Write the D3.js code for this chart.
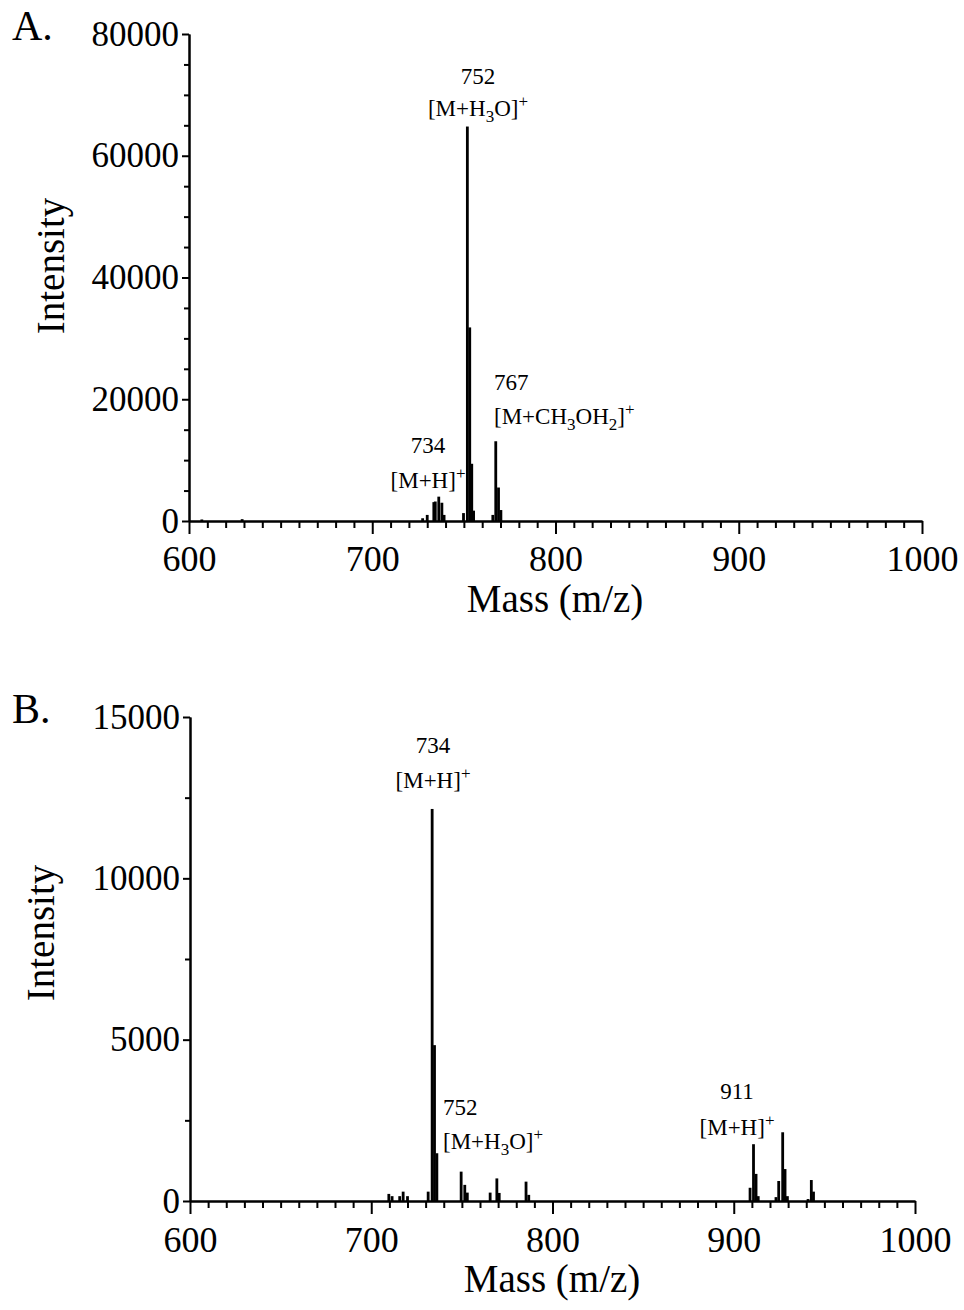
<!DOCTYPE html>
<html>
<head>
<meta charset="utf-8">
<script src="https://cdn.jsdelivr.net/npm/d3@7"></script>
<style>
  body { margin: 0; background: #fff; }
  svg { font-family: "Liberation Serif", "Times New Roman", serif; }
  .axis path, .axis line { stroke: #000; stroke-width: 2px; }
  .axis text { font-family: "Liberation Serif", serif; fill: #000; }
</style>
</head>
<body>
<script>
// panel A spectrum (m/z, intensity)
var massA = [607, 629, 727.5, 730, 733.6, 734.4, 736.3, 738, 739.2, 749.8, 751.9, 753.2, 754.3, 755.3, 765.8, 767.4, 768.9, 770.2];
var intA  = [250, 300, 450, 1000, 3100, 3200, 4000, 3000, 1000, 1300, 64800, 31800, 9400, 1700, 1000, 13100, 5500, 1800];

// panel B spectrum
var massB = [709.7, 711.5, 715.7, 717.6, 720, 731.4, 733.6, 734.9, 736.2, 749.6, 751.6, 753, 765.6, 769.3, 770.6, 785.4, 786.9, 909, 910.9, 912.3, 913.5, 923.3, 924.8, 927, 928.3, 929.6, 941, 942.8, 944];
var intB  = [220, 150, 150, 290, 150, 290, 12150, 4830, 1480, 910, 500, 260, 260, 700, 250, 600, 190, 410, 1760, 840, 150, 120, 620, 2130, 990, 150, 60, 650, 290];

var xTicks = [600, 700, 800, 900, 1000];
var yTicksA = [0, 20000, 40000, 60000, 80000];
var yTicksB = [0, 5000, 10000, 15000];

// annotations: mass label + ion formula parts (0 normal, -1 subscript, 1 superscript)
var annA = [
  {num: "752", ion: [["[M+H",0],["3",-1],["O]",0],["+",1]], x: 478, y1: 84, y2: 116, anchor: "middle"},
  {num: "767", ion: [["[M+CH",0],["3",-1],["OH",0],["2",-1],["]",0],["+",1]], x: 494, y1: 390, y2: 424, anchor: "start"},
  {num: "734", ion: [["[M+H]",0],["+",1]], x: 428, y1: 453, y2: 488, anchor: "middle"}
];
var annB = [
  {num: "734", ion: [["[M+H]",0],["+",1]], x: 433, y1: 753, y2: 788, anchor: "middle"},
  {num: "752", ion: [["[M+H",0],["3",-1],["O]",0],["+",1]], x: 443, y1: 1115, y2: 1149, anchor: "start"},
  {num: "911", ion: [["[M+H]",0],["+",1]], x: 737, y1: 1099, y2: 1135, anchor: "middle"}
];

var svg = d3.select("body").append("svg")
  .attr("width", 964).attr("height", 1310);

function panel(opt) {
  var x = d3.scaleLinear().domain([600, 1000]).range(opt.xr);
  var y = d3.scaleLinear().domain([0, opt.ymax]).range(opt.yr);
  var g = svg.append("g");

  // bars
  g.selectAll("rect.peak")
    .data(opt.mass.map(function(m, i) { return {m: m, v: opt.inten[i]}; }))
    .enter().append("rect")
      .attr("class", "peak")
      .attr("x", function(d) { return x(d.m) - 1.4; })
      .attr("width", 2.8)
      .attr("y", function(d) { return y(d.v); })
      .attr("height", function(d) { return y(0) - y(d.v); })
      .attr("fill", "#000");

  // x axis: minor then major
  var xMinor = d3.range(600, 1001, 10).filter(function(v) { return v % 100 !== 0; });
  g.append("g").attr("class", "axis")
    .attr("transform", "translate(0," + opt.yr[0] + ")")
    .call(d3.axisBottom(x).tickValues(xMinor).tickSize(7).tickSizeOuter(0).tickFormat(""));
  g.append("g").attr("class", "axis")
    .attr("transform", "translate(0," + opt.yr[0] + ")")
    .call(d3.axisBottom(x).tickValues(xTicks).tickSize(13).tickSizeOuter(0).tickFormat(d3.format("d")))
    .selectAll("text").attr("y", opt.xlabDy).attr("dy", 0).attr("font-size", 36);

  // y axis
  var yMinor = d3.range(0, opt.ymax + 1, opt.minor).filter(function(v) { return opt.yt.indexOf(v) < 0; });
  g.append("g").attr("class", "axis")
    .attr("transform", "translate(" + opt.xr[0] + ",0)")
    .call(d3.axisLeft(y).tickValues(yMinor).tickSize(5).tickSizeOuter(0).tickFormat(""));
  g.append("g").attr("class", "axis")
    .attr("transform", "translate(" + opt.xr[0] + ",0)")
    .call(d3.axisLeft(y).tickValues(opt.yt).tickSize(7).tickSizeOuter(0).tickPadding(3).tickFormat(d3.format("d")))
    .selectAll("text").attr("font-size", 35);

  // titles
  g.append("text").attr("x", 12).attr("y", opt.letterY)
    .attr("font-size", 42).text(opt.letter);
  g.append("text")
    .attr("transform", "translate(" + opt.ytX + "," + opt.ytY + ") rotate(-90)")
    .attr("text-anchor", "middle").attr("font-size", 39).text("Intensity");
  g.append("text").attr("x", opt.xtX).attr("y", opt.xtY)
    .attr("text-anchor", "middle").attr("font-size", 39).text("Mass (m/z)");

  // peak annotations
  opt.ann.forEach(function(a) {
    g.append("text").attr("x", a.x).attr("y", a.y1)
      .attr("text-anchor", a.anchor).attr("font-size", 23).text(a.num);
    var t = g.append("text").attr("x", a.x).attr("y", a.y2)
      .attr("text-anchor", a.anchor).attr("font-size", 23);
    var prev = 0;
    a.ion.forEach(function(p) {
      var shift = p[1] === -1 ? 6 : (p[1] === 1 ? -9 : 0);
      t.append("tspan")
        .attr("dy", shift - prev)
        .attr("font-size", p[1] === 0 ? 23 : 17)
        .text(p[0]);
      prev = shift;
    });
  });
}

panel({mass: massA, inten: intA, xr: [189, 922], yr: [521, 34], ymax: 80000, minor: 5000, yt: yTicksA,
  xlabDy: 50, letter: "A.", letterY: 40, ytX: 64, ytY: 266, xtX: 555, xtY: 612, ann: annA});
panel({mass: massB, inten: intB, xr: [190, 915], yr: [1201, 717], ymax: 15000, minor: 2500, yt: yTicksB,
  xlabDy: 51, letter: "B.", letterY: 723, ytX: 54, ytY: 933, xtX: 552, xtY: 1292, ann: annB});
</script>
</body>
</html>
